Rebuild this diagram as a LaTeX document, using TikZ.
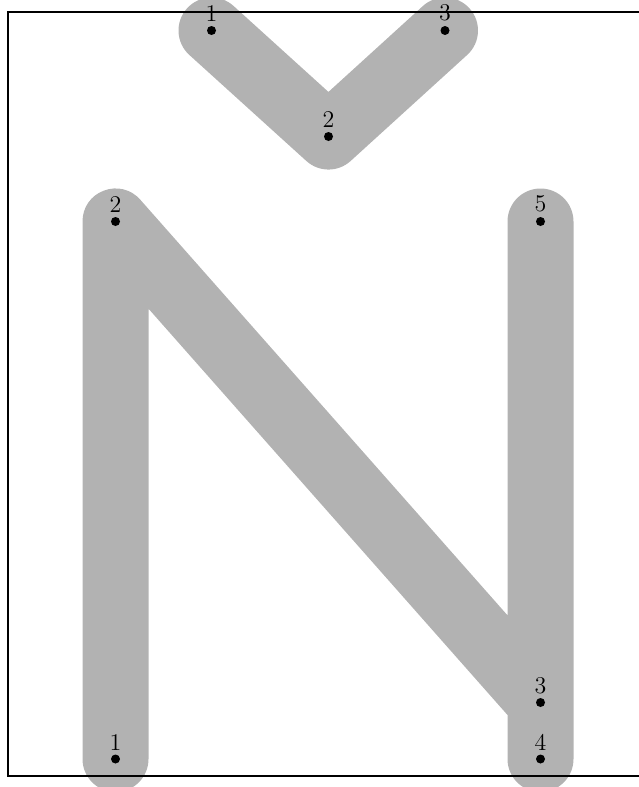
\documentclass[tikz,border=0pt]{standalone}
\begin{document}
\begin{tikzpicture}[x=0.5pt,y=-0.5pt,
  stroke/.style={line width=33pt,color=black!30,line cap=round,line join=round},
  pt/.style={circle,fill=black,inner sep=0pt,minimum size=4.5pt},
  lbl/.style={above,inner sep=0pt,yshift=4.3pt,font=\large}]
\useasboundingbox (0,0) rectangle (638,787);
% caron
\coordinate (c1) at (211.5,30.5);
\coordinate (c2) at (328.5,136.5);
\coordinate (c3) at (445,30.5);
% N
\coordinate (n1) at (115.5,759);
\coordinate (n2) at (115.5,221.5);
\coordinate (n3) at (540.5,702.5);
\coordinate (n4) at (540.5,759);
\coordinate (n5) at (540.5,221.5);
\draw[stroke] (c1) -- (c2) -- (c3);
\draw[stroke] (n1) -- (n2) -- (n3) -- (n4) -- (n5);
\draw[line width=0.8pt] (680,776) -- (8,776) -- (8,12) -- (680,12);
\foreach \p/\t in {c1/1,c2/2,c3/3,n1/1,n2/2,n3/3,n4/4,n5/5}{
  \node[pt] (d\p) at (\p) {};
  \node[lbl] (l\p) at (\p) {\t};
}
\end{tikzpicture}
\end{document}
